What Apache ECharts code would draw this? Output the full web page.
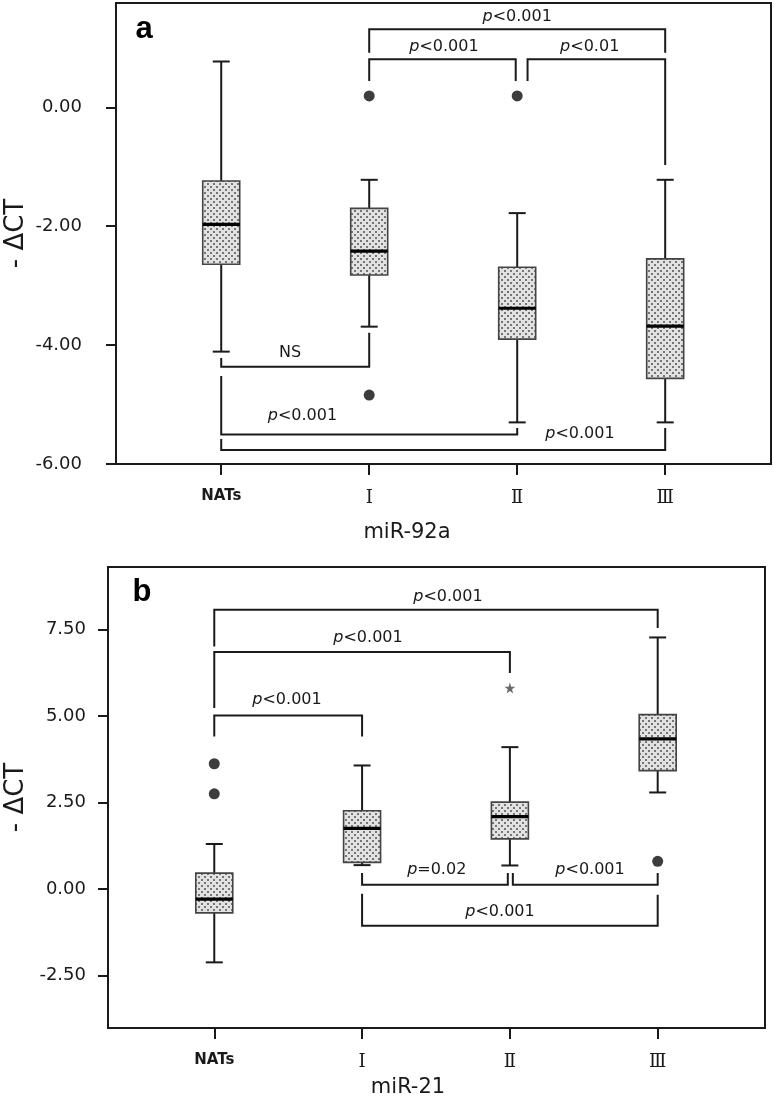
<!DOCTYPE html>
<html>
<head>
<meta charset="utf-8">
<script src="https://cdn.jsdelivr.net/npm/echarts@6/dist/echarts.min.js"></script>
<style>
html,body{margin:0;padding:0;background:#fff;}
#chart{width:774px;height:1098px;}
</style>
</head>
<body>
<div id="chart"></div>
<script>
// ---------- data ----------
const categories = ['NATs', 'Ⅰ', 'Ⅱ', 'Ⅲ'];
const catIndex = [0, 1, 2, 3];

// panel a : miR-92a
const lowA    = [-4.11, -3.69, -5.30, -5.30];
const q1A     = [-2.64, -2.82, -3.90, -4.56];
const medA    = [-1.97, -2.42, -3.38, -3.68];
const q3A     = [-1.24, -1.70, -2.69, -2.55];
const highA   = [ 0.77, -1.22, -1.78, -1.22];
const outliersA = [[1, 0.19], [2, 0.19], [1, -4.84]];
const yTicksA = [-6, -4, -2, 0];
// [x1, x2, yBar, yLeftEnd, yRightEnd]
const bracketsA = [
  [1, 3, 1.312, 0.918, 0.918],
  [1, 1.99, 0.807, 0.442, 0.442],
  [2.07, 3, 0.807, 0.442, -0.972],
  [0, 1, -4.363, -4.217, -3.791],
  [0, 2, -5.502, -4.52, -5.394],
  [0, 3, -5.764, -5.579, -5.394]
];
const pLabelsA = [
  [2.0, 1.52, 'p<0.001'],
  [1.505, 1.014, 'p<0.001'],
  [2.49, 1.014, 'p<0.01'],
  [0.465, -4.133, 'NS'],
  [0.549, -5.193, 'p<0.001'],
  [2.424, -5.495, 'p<0.001']
];

// panel b : miR-21
const lowB    = [-2.12, 0.69, 0.68, 2.79];
const q1B     = [-0.69, 0.77, 1.45, 3.42];
const medB    = [-0.29, 1.75, 2.09, 4.34];
const q3B     = [ 0.46, 2.26, 2.51, 5.04];
const highB   = [ 1.30, 3.57, 4.10, 7.27];
const outliersB = [[0, 3.62], [0, 2.75], [3, 0.80]];
const extremesB = [[2, 5.81]];
const yTicksB = [-2.5, 0, 2.5, 5, 7.5];
const bracketsB = [
  [0, 3, 8.072, 7.012, 7.543],
  [0, 2, 6.850, 5.231, 6.243],
  [0, 1, 5.017, 4.410, 4.410],
  [1, 1.986, 0.124, 0.462, 0.462],
  [2.02, 3, 0.124, 0.462, 0.462],
  [1, 3, -1.061, -0.136, -0.165]
];
const pLabelsB = [
  [1.581, 8.457, 'p<0.001'],
  [1.04, 7.254, 'p<0.001'],
  [0.492, 5.471, 'p<0.001'],
  [1.505, 0.558, 'p=0.02'],
  [2.542, 0.558, 'p<0.001'],
  [1.933, -0.647, 'p<0.001']
];

// ---------- helpers ----------
const SANS = 'DejaVu Sans';
const SERIF = 'DejaVu Serif';
const INK = '#1a1a1a';

function makePattern() {
  const c = document.createElement('canvas');
  c.width = 6; c.height = 6;
  const g = c.getContext('2d');
  g.fillStyle = '#e2e2e2';
  g.fillRect(0, 0, 6, 6);
  g.fillStyle = '#767676';
  g.fillRect(0, 0, 2, 2);
  g.fillRect(3, 3, 2, 2);
  return c;
}
const patternCanvas = makePattern();

function boxData(low, q1, med, q3, high) {
  return catIndex.map((i) => [i, low[i], q1[i], med[i], q3[i], high[i]]);
}

function renderBox(params, api) {
  const x = api.value(0);
  const pLo = api.coord([x, api.value(1)]);
  const pQ1 = api.coord([x, api.value(2)]);
  const pMed = api.coord([x, api.value(3)]);
  const pQ3 = api.coord([x, api.value(4)]);
  const pHi = api.coord([x, api.value(5)]);
  const cx = pMed[0];
  const bw = 37, cw = 17;
  const lineStyle = { stroke: INK, lineWidth: 2 };
  return {
    type: 'group',
    children: [
      { type: 'line', shape: { x1: cx, y1: pHi[1], x2: cx, y2: pQ3[1] }, style: lineStyle },
      { type: 'line', shape: { x1: cx, y1: pQ1[1], x2: cx, y2: pLo[1] }, style: lineStyle },
      { type: 'line', shape: { x1: cx - cw / 2, y1: pHi[1], x2: cx + cw / 2, y2: pHi[1] }, style: lineStyle },
      { type: 'line', shape: { x1: cx - cw / 2, y1: pLo[1], x2: cx + cw / 2, y2: pLo[1] }, style: lineStyle },
      { type: 'rect', shape: { x: cx - bw / 2, y: pQ3[1], width: bw, height: pQ1[1] - pQ3[1] },
        style: { fill: { image: patternCanvas, repeat: 'repeat' }, stroke: '#444', lineWidth: 1.6 } },
      { type: 'line', shape: { x1: cx - bw / 2, y1: pMed[1], x2: cx + bw / 2, y2: pMed[1] },
        style: { stroke: '#000', lineWidth: 3.2 } }
    ]
  };
}

function renderBracket(params, api) {
  const x1 = api.value(0), x2 = api.value(1), y = api.value(2);
  const a = api.coord([x1, api.value(3)]);
  const b = api.coord([x1, y]);
  const c = api.coord([x2, y]);
  const d = api.coord([x2, api.value(4)]);
  return {
    type: 'polyline',
    shape: { points: [a, b, c, d] },
    style: { stroke: INK, lineWidth: 2, fill: null }
  };
}

function renderLabel(params, api) {
  const p = api.coord([api.value(0), api.value(1)]);
  const raw = params.context.labels[params.dataIndex];
  const txt = raw.charAt(0) === 'p' ? '{i|p}{n|' + raw.slice(1) + '}' : '{n|' + raw + '}';
  return {
    type: 'text',
    x: p[0], y: p[1],
    style: {
      text: txt,
      align: 'center',
      verticalAlign: 'middle',
      rich: {
        i: { fontFamily: SANS, fontStyle: 'italic', fontSize: 16, fill: INK },
        n: { fontFamily: SANS, fontSize: 16, fill: INK }
      }
    }
  };
}

function labelSeries(labels, idx) {
  return {
    type: 'custom',
    xAxisIndex: idx, yAxisIndex: idx,
    data: labels.map((l) => [l[0], l[1]]),
    renderItem: function (params, api) {
      params.context.labels = labels.map((l) => l[2]);
      return renderLabel(params, api);
    },
    silent: true, clip: false, z: 5
  };
}

function xAxisCfg(gridIndex, min, max) {
  return {
    type: 'value', gridIndex: gridIndex, min: min, max: max,
    splitLine: { show: false },
    axisLine: { show: true, onZero: false, lineStyle: { color: INK, width: 2 } },
    axisTick: { show: true, customValues: catIndex, length: 11, lineStyle: { color: INK, width: 2 } },
    axisLabel: {
      customValues: catIndex,
      margin: 25,
      formatter: function (v) {
        const i = Math.round(v);
        return i === 0 ? '{n|' + categories[i] + '}' : '{r|' + categories[i] + '}';
      },
      rich: {
        n: { fontFamily: SANS, fontWeight: 'bold', fontSize: 15, color: INK },
        r: { fontFamily: SERIF, fontSize: 18, color: INK }
      }
    }
  };
}

function yAxisCfg(gridIndex, min, max, ticks, margin, gap) {
  return {
    type: 'value', gridIndex: gridIndex, min: min, max: max,
    name: '- ΔCT', nameLocation: 'middle', nameRotate: 90, nameGap: gap,
    nameMoveOverlap: false,
    nameTextStyle: { fontFamily: SANS, fontSize: 26, color: INK },
    splitLine: { show: false },
    axisLine: { show: true, onZero: false, lineStyle: { color: INK, width: 2 } },
    axisTick: { show: true, customValues: ticks, length: 10, lineStyle: { color: INK, width: 2 } },
    axisLabel: {
      customValues: ticks, margin: margin,
      fontFamily: SANS, fontSize: 18, color: INK,
      formatter: (v) => Number(v).toFixed(2)
    }
  };
}

const chart = echarts.init(document.getElementById('chart'), null, { renderer: 'canvas' });

const option = {
  animation: false,
  backgroundColor: '#fff',
  grid: [
    { left: 116, top: 3, right: 3, height: 461, show: true, borderColor: INK, borderWidth: 2, backgroundColor: 'transparent', containLabel: false, outerBoundsMode: 'none' },
    { left: 108, top: 567, right: 9, height: 461, show: true, borderColor: INK, borderWidth: 2, backgroundColor: 'transparent', containLabel: false, outerBoundsMode: 'none' }
  ],
  xAxis: [
    xAxisCfg(0, -0.711, 3.715),
    xAxisCfg(1, -0.719, 3.726)
  ],
  yAxis: [
    yAxisCfg(0, -6, 1.754, yTicksA, 34, 87),
    yAxisCfg(1, -4.017, 9.306, yTicksB, 22, 79)
  ],
  graphic: [
    { type: 'text', x: 144, y: 29, style: { text: 'a', fontFamily: 'Liberation Sans', fontWeight: 'bold', fontSize: 31, fill: '#000', align: 'center', verticalAlign: 'middle' } },
    { type: 'text', x: 142, y: 592, style: { text: 'b', fontFamily: 'Liberation Sans', fontWeight: 'bold', fontSize: 31, fill: '#000', align: 'center', verticalAlign: 'middle' } },
    { type: 'text', x: 407, y: 533, style: { text: 'miR-92a', fontFamily: SANS, fontSize: 21, fill: INK, align: 'center', verticalAlign: 'middle' } },
    { type: 'text', x: 408, y: 1088, style: { text: 'miR-21', fontFamily: SANS, fontSize: 21, fill: INK, align: 'center', verticalAlign: 'middle' } }
  ],
  series: [
    { type: 'custom', xAxisIndex: 0, yAxisIndex: 0, data: boxData(lowA, q1A, medA, q3A, highA), renderItem: renderBox, silent: true, z: 3 },
    { type: 'custom', xAxisIndex: 0, yAxisIndex: 0, data: bracketsA, renderItem: renderBracket, silent: true, clip: false, z: 4 },
    labelSeries(pLabelsA, 0),
    { type: 'scatter', xAxisIndex: 0, yAxisIndex: 0, data: outliersA, symbol: 'circle', symbolSize: 11, itemStyle: { color: '#0d0d0d' }, silent: true, z: 6 },

    { type: 'custom', xAxisIndex: 1, yAxisIndex: 1, data: boxData(lowB, q1B, medB, q3B, highB), renderItem: renderBox, silent: true, z: 3 },
    { type: 'custom', xAxisIndex: 1, yAxisIndex: 1, data: bracketsB, renderItem: renderBracket, silent: true, clip: false, z: 4 },
    labelSeries(pLabelsB, 1),
    { type: 'scatter', xAxisIndex: 1, yAxisIndex: 1, data: outliersB, symbol: 'circle', symbolSize: 11, itemStyle: { color: '#0d0d0d' }, silent: true, z: 6 },
    { type: 'scatter', xAxisIndex: 1, yAxisIndex: 1, data: extremesB,
      symbol: 'path://M50,0 L61,35 L98,35 L68,57 L79,91 L50,70 L21,91 L32,57 L2,35 L39,35 Z',
      symbolSize: 11, itemStyle: { color: '#444' }, silent: true, z: 6 }
  ]
};
chart.setOption(option);
</script>
</body>
</html>
